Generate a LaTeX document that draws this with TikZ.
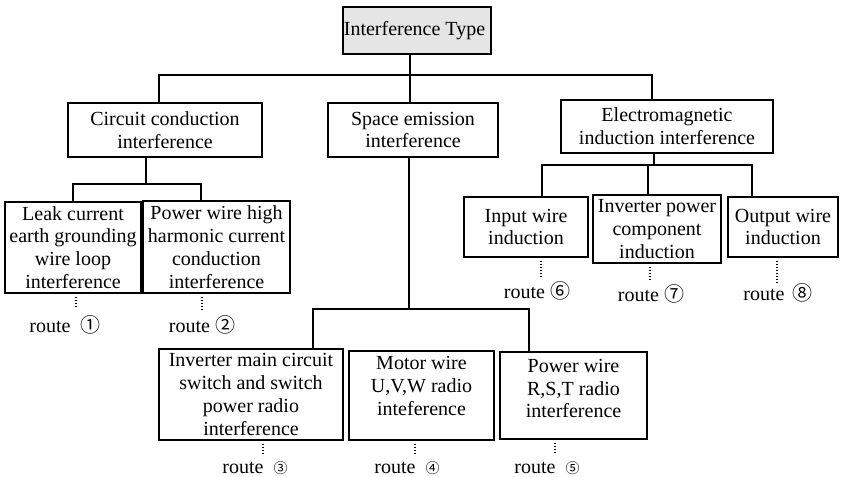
\documentclass[tikz,border=0pt]{standalone}
\usepackage{fontspec}
\setmainfont{Liberation Serif}
\newfontfamily\circfont{Noto Sans CJK SC}
\newcommand{\rtbig}[1]{{\circfont\fontsize{20}{20}\selectfont #1}}
\newcommand{\rtsmall}[1]{{\circfont\fontsize{14}{14}\selectfont #1}}

\begin{document}
\begin{tikzpicture}[
    x=1pt,
    y=-1pt,
    box/.style={
        draw,
        fill=white,
        line width=1.5pt,
        inner sep=1pt,
        align=center,
        font=\fontsize{20}{22.8}\selectfont
    },
    heavy box/.style={
        box,
        line width=2.4pt
    },
    branch/.style={
        -,
        line width=1.4pt
    },
    route line/.style={
        line width=1.2pt,
        dash pattern=on 1.2pt off 1.8pt,
        shorten <=3pt
    },
    route/.style={
        anchor=base,
        inner sep=0pt,
        font=\fontsize{20}{22.8}\selectfont
    }
]
\useasboundingbox (0,0) rectangle (842,476);

\node[box, fill=black!10, minimum width=148pt, minimum height=47pt] (type) at (417,30.5) {
    Interference Type
};

\node[box, minimum width=194pt, minimum height=54pt] (circuit) at (165,130) {
    Circuit conduction\\
    interference
};

\node[box, minimum width=170pt, minimum height=54pt] (space) at (413,130) {
    Space emission\\
    interference
};

\node[box, minimum width=212pt, minimum height=53pt] (emi) at (667,126.5) {
    Electromagnetic\\
    induction interference
};

\node[box, minimum width=136pt, minimum height=91pt] (leak) at (73,247.5) {
    Leak current\\
    earth grounding\\
    wire loop\\
    interference
};

\node[heavy box, minimum width=147pt, minimum height=92pt] (harmonic) at (216.5,247) {
    Power wire high\\
    harmonic current\\
    conduction\\
    interference
};

\node[box, minimum width=184pt, minimum height=91pt] (mainsw) at (251,394.5) {
    Inverter main circuit\\
    switch and switch\\
    power radio\\
    interference
};

\node[box, minimum width=145pt, minimum height=89pt, text depth=19pt] (motor) at (421.5,395.5) {
    Motor wire\\
    U,V,W radio\\
    inteference
};

\node[box, minimum width=147pt, minimum height=87pt, text depth=14pt] (rst) at (573.5,395.5) {
    Power wire\\
    R,S,T radio\\
    interference
};

\node[box, minimum width=124pt, minimum height=60pt] (input) at (526,227) {
    Input wire\\
    induction
};

\node[heavy box, minimum width=128pt, minimum height=68pt, inner sep=0pt] (invcomp) at (657,229) {
    Inverter power\\
    component\\
    induction
};

\node[box, minimum width=110pt, minimum height=60pt] (output) at (783,227) {
    Output wire\\
    induction
};

\node[route] (r1) at (65,332) {route\hspace{0.5em}\rtbig{①}};
\node[route] (r2) at (202,332) {route \rtbig{②}};
\node[route] (r3) at (255,473) {route\hspace{0.5em}\rtsmall{③}};
\node[route] (r4) at (407,473) {route\hspace{0.5em}\rtsmall{④}};
\node[route] (r5) at (547,473) {route\hspace{0.5em}\rtsmall{⑤}};
\node[route] (r6) at (537,298) {route \rtbig{⑥}};
\node[route] (r7) at (651,301) {route \rtbig{⑦}};
\node[route] (r8) at (778,300) {route\hspace{0.4em}\rtbig{⑧}};

\coordinate (bus) at (410,75);
\coordinate (busL) at (159,75);
\coordinate (busR) at (652,75);
\draw[branch] (type.south -| bus) -- (bus);
\draw[branch] (busL |- circuit.north) -- (busL) -- (busR) -- (busR |- emi.north);
\draw[branch] (bus) -- (bus |- space.north);

\coordinate (cbus) at (146,184);
\coordinate (cbusL) at (73,184);
\coordinate (cbusR) at (201,184);
\draw[branch] (circuit.south -| cbus) -- (cbus);
\draw[branch] (leak.north -| cbusL) -- (cbusL) -- (cbusR) -- (harmonic.north -| cbusR);

\coordinate (sbus) at (409,309);
\coordinate (sbusL) at (313,309);
\coordinate (sbusR) at (529,309);
\draw[branch] (space.south -| sbus) -- (sbus);
\draw[branch] (mainsw.north -| sbusL) -- (sbusL) -- (sbusR) -- (rst.north -| sbusR);

\coordinate (ebus) at (654,165);
\coordinate (ebusL) at (542,165);
\coordinate (ebusM) at (648,165);
\coordinate (ebusR) at (752,165);
\draw[branch] (emi.south -| ebus) -- (ebus);
\draw[branch] (input.north -| ebusL) -- (ebusL) -- (ebusR) -- (output.north -| ebusR);
\draw[branch] (ebusM) -- (invcomp.north -| ebusM);

\coordinate (d1) at (76,308);
\coordinate (d2) at (202,312);
\coordinate (d3) at (263,455);
\coordinate (d4) at (415,455);
\coordinate (d5) at (555,453);
\coordinate (d6) at (541,278);
\coordinate (d7) at (650,280);
\coordinate (d8) at (777,283);
\draw[route line] (leak.south -| d1) -- (d1);
\draw[route line] (harmonic.south -| d2) -- (d2);
\draw[route line] (mainsw.south -| d3) -- (d3);
\draw[route line] (motor.south -| d4) -- (d4);
\draw[route line] (rst.south -| d5) -- (d5);
\draw[route line] (input.south -| d6) -- (d6);
\draw[route line] (invcomp.south -| d7) -- (d7);
\draw[route line] (output.south -| d8) -- (d8);

\end{tikzpicture}
\end{document}
